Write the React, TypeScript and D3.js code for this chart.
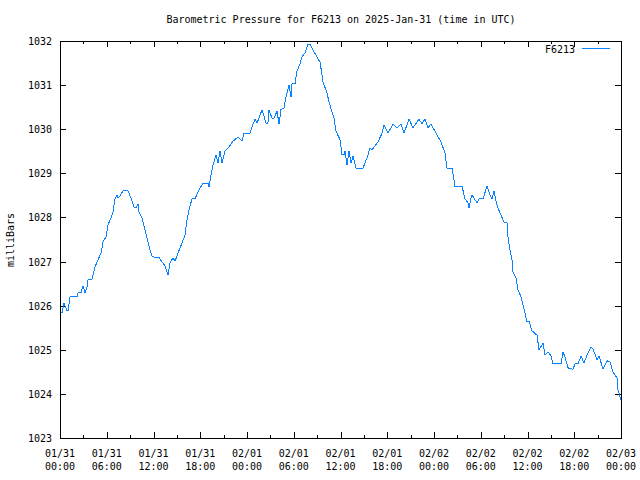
import React from "react";
import * as d3 from "d3";

const hours = [0.00,0.26,0.51,0.90,1.03,1.28,2.18,2.31,2.70,2.95,3.21,3.47,3.59,4.11,4.49,4.88,5.26,5.52,5.90,6.16,6.55,6.80,7.06,7.32,7.44,7.70,8.09,8.73,9.11,9.50,9.75,10.01,10.14,10.52,10.91,11.29,11.55,11.81,12.32,12.71,13.09,13.48,13.86,14.12,14.50,14.76,15.14,15.66,16.04,16.30,16.56,16.94,17.33,17.71,18.22,18.35,18.99,19.12,19.38,19.64,20.02,20.28,20.53,20.79,21.18,21.69,22.20,22.84,23.36,23.61,24.38,24.64,25.03,25.28,25.54,25.92,26.05,26.44,26.69,26.82,27.21,27.46,27.85,28.11,28.36,28.75,29.00,29.39,29.65,29.78,30.16,30.42,30.80,31.06,31.44,31.83,32.09,32.47,32.98,33.37,33.63,33.75,34.27,34.52,34.91,35.17,35.42,35.94,36.19,36.45,36.58,36.83,37.09,37.35,37.60,37.99,38.89,39.40,39.79,40.04,40.43,40.81,41.33,41.58,42.10,42.74,43.25,43.76,44.15,44.79,45.30,46.07,46.46,46.84,47.23,47.61,48.26,48.90,49.41,49.67,50.31,50.57,50.69,51.59,51.98,52.36,52.49,52.75,52.88,53.52,53.77,54.29,54.80,55.19,55.44,55.70,56.08,56.47,56.98,57.37,57.50,57.75,58.01,58.14,58.53,58.78,59.17,59.43,59.68,59.94,60.19,60.58,61.22,61.48,61.99,62.25,62.63,63.02,63.27,64.30,64.56,64.81,65.20,65.84,66.10,66.48,66.87,67.25,67.64,68.15,68.41,68.92,69.18,69.69,70.20,70.59,70.97,71.49,71.62,72.00];

const pressure = [1025.86,1025.83,1026.06,1025.88,1025.88,1026.20,1026.20,1026.29,1026.29,1026.45,1026.29,1026.42,1026.58,1026.60,1026.88,1027.04,1027.19,1027.44,1027.56,1027.83,1027.99,1028.12,1028.42,1028.51,1028.44,1028.49,1028.60,1028.60,1028.44,1028.24,1028.21,1028.30,1028.12,1027.99,1027.72,1027.44,1027.26,1027.13,1027.08,1027.10,1026.99,1026.90,1026.70,1026.97,1027.08,1027.01,1027.19,1027.42,1027.60,1027.94,1028.17,1028.42,1028.42,1028.58,1028.74,1028.78,1028.78,1028.69,1028.96,1029.19,1029.42,1029.23,1029.51,1029.23,1029.51,1029.60,1029.73,1029.82,1029.73,1029.91,1029.91,1030.05,1030.23,1030.14,1030.25,1030.44,1030.37,1030.14,1030.14,1030.44,1030.25,1030.25,1030.41,1030.12,1030.44,1030.48,1030.73,1031.00,1030.73,1031.03,1031.03,1031.32,1031.48,1031.64,1031.73,1031.93,1031.93,1031.80,1031.64,1031.52,1031.23,1031.07,1030.82,1030.62,1030.39,1030.25,1029.96,1029.76,1029.42,1029.42,1029.51,1029.19,1029.51,1029.23,1029.39,1029.12,1029.12,1029.35,1029.57,1029.53,1029.62,1029.71,1029.91,1030.10,1029.91,1030.12,1030.03,1030.12,1029.91,1030.23,1030.03,1030.23,1030.12,1030.23,1030.03,1030.12,1029.91,1029.71,1029.46,1029.12,1029.12,1028.85,1028.71,1028.71,1028.42,1028.33,1028.21,1028.44,1028.51,1028.33,1028.42,1028.42,1028.71,1028.51,1028.42,1028.60,1028.28,1028.10,1027.90,1027.87,1027.56,1027.26,1027.04,1026.76,1026.63,1026.36,1026.20,1026.02,1025.83,1025.63,1025.65,1025.43,1025.33,1025.00,1025.15,1024.88,1024.95,1024.86,1024.68,1024.68,1024.95,1024.84,1024.59,1024.56,1024.68,1024.68,1024.86,1024.70,1024.88,1025.06,1025.02,1024.77,1024.86,1024.56,1024.75,1024.72,1024.50,1024.36,1024.09,1023.86];

const yTicks = [1023,1024,1025,1026,1027,1028,1029,1030,1031,1032];
const xTickHours = [0,6,12,18,24,30,36,42,48,54,60,66,72];
const xTickDates = ["01/31","01/31","01/31","01/31","02/01","02/01","02/01","02/01","02/02","02/02","02/02","02/02","02/03"];
const xTickTimes = ["00:00","06:00","12:00","18:00","00:00","06:00","12:00","18:00","00:00","06:00","12:00","18:00","00:00"];
const minorHours = [3,9,15,21,27,33,39,45,51,57,63,69];

const title = "Barometric Pressure for F6213 on 2025-Jan-31 (time in UTC)";
const seriesName = "F6213";
const yLabel = "milliBars";

export default function App() {
  const W = 640, H = 480;
  const L = 60, R = 621, T = 41, B = 438;
  const x = d3.scaleLinear().domain([0, 72]).range([L, R]);
  const y = d3.scaleLinear().domain([1023, 1032]).range([B, T]);
  const data = hours.map((h, i) => [h, pressure[i]] as [number, number]);
  const line = d3.line<[number, number]>().x(d => x(d[0])).y(d => y(d[1]));
  const font = { fontFamily: "'DejaVu Sans Mono', monospace", fontSize: 10 };
  const color = "#0a82ff";
  return (
    <svg width={W} height={H} style={{ position: "absolute", left: 0, top: 0, background: "#fff" }}>
      <rect x={0} y={0} width={W} height={H} fill="#fff" />
      <text x={341} y={23} textAnchor="middle" {...font} fill="#000">{title}</text>
      <text transform={`translate(14,240) rotate(-90)`} textAnchor="middle" {...font} fill="#000">{yLabel}</text>
      <g stroke="#000" strokeWidth={1} shapeRendering="crispEdges">
        {yTicks.map(t => (
          <g key={"y" + t}>
            <line x1={L} x2={L + 6} y1={Math.round(y(t)) + 0.5} y2={Math.round(y(t)) + 0.5} />
            <line x1={R - 6} x2={R} y1={Math.round(y(t)) + 0.5} y2={Math.round(y(t)) + 0.5} />
          </g>
        ))}
        {xTickHours.map(h => (
          <g key={"x" + h}>
            <line x1={Math.round(x(h)) + 0.5} x2={Math.round(x(h)) + 0.5} y1={B} y2={B - 6} />
            <line x1={Math.round(x(h)) + 0.5} x2={Math.round(x(h)) + 0.5} y1={T} y2={T + 6} />
          </g>
        ))}
        {minorHours.map(h => (
          <g key={"m" + h}>
            <line x1={Math.round(x(h)) + 0.5} x2={Math.round(x(h)) + 0.5} y1={B} y2={B - 3} />
            <line x1={Math.round(x(h)) + 0.5} x2={Math.round(x(h)) + 0.5} y1={T} y2={T + 3} />
          </g>
        ))}
      </g>
      {yTicks.map(t => (
        <text key={"yl" + t} x={52} y={y(t) + 4} textAnchor="end" {...font} fill="#000">{t}</text>
      ))}
      {xTickHours.map((h, i) => (
        <g key={"xl" + h}>
          <text x={x(h)} y={457} textAnchor="middle" {...font} fill="#000">{xTickDates[i]}</text>
          <text x={x(h)} y={470} textAnchor="middle" {...font} fill="#000">{xTickTimes[i]}</text>
        </g>
      ))}
      <path d={line(data) || ""} fill="none" stroke={color} strokeWidth={1} shapeRendering="crispEdges" />
      <text x={575} y={53} textAnchor="end" {...font} fill="#000">{seriesName}</text>
      <line x1={582} x2={610} y1={48.5} y2={48.5} stroke={color} strokeWidth={1} shapeRendering="crispEdges" />
      <rect x={L + 0.5} y={T + 0.5} width={R - L} height={B - T} fill="none" stroke="#000" strokeWidth={1} shapeRendering="crispEdges" />
    </svg>
  );
}
